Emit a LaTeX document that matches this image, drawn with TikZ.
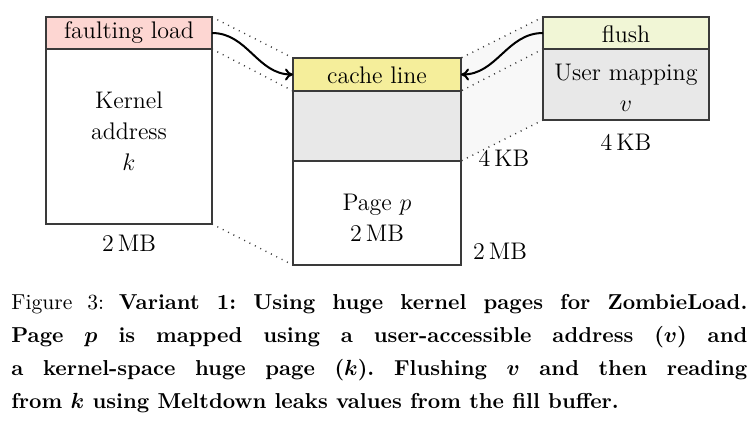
\documentclass[tikz,border=0pt]{standalone}
\usepackage{amsmath}
\usetikzlibrary{arrows.meta}
\definecolor{pinkhead}{HTML}{FDD6D2}
\definecolor{cachey}{HTML}{F5EE9B}
\definecolor{flushg}{HTML}{F1F6D6}
\definecolor{grayfill}{HTML}{E8E8E8}
\definecolor{shadegray}{HTML}{F8F8F8}
\definecolor{edge}{HTML}{3A3A3A}
\newcommand{\bv}[1]{\ensuremath{\boldsymbol{#1}}}
\begin{document}
\begin{tikzpicture}[x=0.5pt,y=-0.5pt,
  box/.style={draw=edge,line width=0.6pt,rectangle,inner sep=0pt,outer sep=0pt,anchor=north west},
  dtext/.style={font=\fontsize{12}{15.5}\selectfont,align=center,inner sep=0pt},
  dots/.style={draw=edge,line width=0.7pt,dash pattern=on 0.5pt off 2.5pt},
  arr/.style={-{To[length=4pt,width=6pt]},line width=1pt,black},
  capline/.style={font=\fontsize{10.8}{13}\selectfont\frenchspacing,anchor=base west,inner sep=0pt}]
\useasboundingbox (0,0) rectangle (754,425);
% shaded trapezoid
\fill[shadegray] (461,58) -- (543,17) -- (543,120) -- (461,161) -- cycle;
% left box
\node[box,fill=pinkhead,minimum width=83pt,minimum height=16pt] (lhead) at (46,17) {};
\node[box,fill=white,minimum width=83pt,minimum height=87.5pt] (lbody) at (46,49) {};
\node[dtext] (lheadt) at (129,33) {faulting load};
\node[dtext] (lbodyt) at (129,131) {Kernel\\address\\$k$};
\node[dtext] (lsize) at (129,243) {2\,MB};
% center box
\node[box,fill=cachey,minimum width=84pt,minimum height=16.5pt] (chead) at (293,58) {};
\node[box,fill=grayfill,minimum width=84pt,minimum height=35pt] (cgray) at (293,91) {};
\node[box,fill=white,minimum width=84pt,minimum height=52pt] (cbody) at (293,161) {};
\node[dtext] (cheadt) at (377,75) {cache line};
\node[dtext] (cbodyt) at (377,218) {Page $p$\\2\,MB};
% right box
\node[box,fill=flushg,minimum width=83pt,minimum height=16pt] (rhead) at (543,17) {};
\node[box,fill=grayfill,minimum width=83pt,minimum height=35.5pt] (rbody) at (543,49) {};
\node[dtext] (rheadt) at (626,34) {flush};
\node[dtext] (rbodyt) at (626,88) {User mapping\\$v$};
\node[dtext] (rsize) at (626,142) {4\,KB};
% middle labels
\node[dtext] (m4kb) at (504,158) {4\,KB};
\node[dtext] (m2mb) at (500,251) {2\,MB};
% dotted mapping lines
\draw[dots] (lhead.north east) -- (chead.north west);
\draw[dots] (lhead.south east) -- (chead.south west);
\draw[dots] (lbody.south east) -- (cbody.south west);
\draw[dots] (rhead.north west) -- (chead.north east);
\draw[dots] (rhead.south west) -- (chead.south east);
\draw[dots] (rbody.south west) -- (cgray.south east);
% arrows
\draw[arr] (lhead.east) to[out=0,in=180] (chead.west);
\draw[arr] (rhead.west) to[out=180,in=0] (chead.east);
% caption
\node[capline] (cap1) at (11,309) {\makebox[368pt][s]{Figure 3: \textbf{Variant 1: Using huge kernel pages for ZombieLoad.}}};
\node[capline] (cap2) at (11,342) {\makebox[368pt][s]{\textbf{Page \bv{p} is mapped using a user-accessible address (\bv{v}) and}}};
\node[capline] (cap3) at (11,375) {\makebox[368pt][s]{\textbf{a kernel-space huge page (\bv{k}). Flushing \bv{v} and then reading}}};
\node[capline] (cap4) at (11,408) {\mbox{\textbf{from \bv{k} using Meltdown leaks values from the fill buffer.}}};
\end{tikzpicture}
\end{document}
